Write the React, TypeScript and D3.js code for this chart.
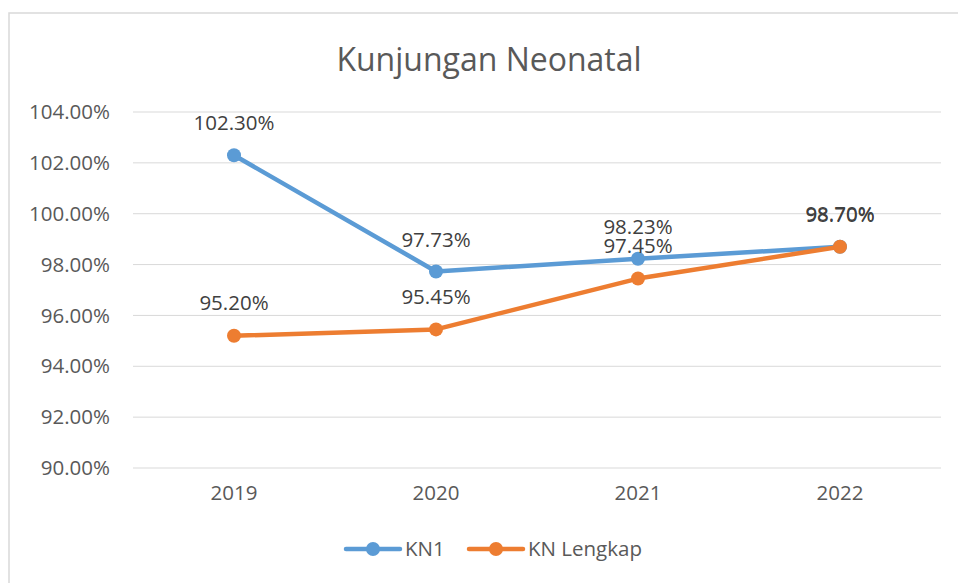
import * as d3 from "d3";

const years = ["2019", "2020", "2021", "2022"];
const kn1 = [102.3, 97.73, 98.23, 98.7];
const knLengkap = [95.2, 95.45, 97.45, 98.7];
const yTicks = [90, 92, 94, 96, 98, 100, 102, 104];

const series = [
  { name: "KN1", values: kn1, color: "#5B9BD5", labelGap: 32 },
  { name: "KN Lengkap", values: knLengkap, color: "#ED7D31", labelGap: 33 },
];

export default function App() {
  const width = 958;
  const height = 583;
  const font = "'Open Sans', sans-serif";

  // plot area
  const x = d3.scaleBand().domain(years).range([133, 941]);
  const y = d3.scaleLinear().domain([90, 104]).range([468, 112]);
  const cx = (d: string) => (x(d) ?? 0) + x.bandwidth() / 2;

  const line = d3
    .line<number>()
    .x((_, i) => cx(years[i]))
    .y((d) => y(d));

  const fmt = (v: number) => v.toFixed(2) + "%";

  return (
    <svg
      width={width}
      height={height}
      style={{ position: "absolute", left: 0, top: 0, background: "#fff" }}
    >
      <rect x={9} y={13} width={width + 10} height={height + 10} fill="#fff" stroke="#d9d9d9" strokeWidth={1.5} />
      <text x={489} y={71} textAnchor="middle" fontFamily={font} fontSize={32} fill="#595959">
        Kunjungan Neonatal
      </text>

      {yTicks.map((t) => (
        <g key={t}>
          <line x1={133} x2={941} y1={y(t)} y2={y(t)} stroke="#d9d9d9" strokeWidth={1} />
          <text x={110} y={y(t)} dy="0.35em" textAnchor="end" fontFamily={font} fontSize={20.5} fill="#595959">
            {t.toFixed(2)}%
          </text>
        </g>
      ))}

      {years.map((yr) => (
        <text key={yr} x={cx(yr)} y={500} textAnchor="middle" fontFamily={font} fontSize={20.5} fill="#595959">
          {yr}
        </text>
      ))}

      {series.map((s) => (
        <g key={s.name}>
          <path d={line(s.values) ?? ""} fill="none" stroke={s.color} strokeWidth={4.5} strokeLinecap="round" strokeLinejoin="round" />
          {s.values.map((v, i) => (
            <circle key={i} cx={cx(years[i])} cy={y(v)} r={7} fill={s.color} />
          ))}
        </g>
      ))}

      {series.map((s) => (
        <g key={s.name + "-labels"}>
          {s.values.map((v, i) => (
            <text key={i} x={cx(years[i])} y={y(v) - s.labelGap} dy="0.35em" textAnchor="middle" fontFamily={font} fontSize={20.5} fill="#404040">
              {fmt(v)}
            </text>
          ))}
        </g>
      ))}

      {series.map((s, i) => {
        const lx = i === 0 ? 346 : 469;
        return (
          <g key={s.name + "-legend"}>
            <line x1={lx} x2={lx + 54} y1={549} y2={549} stroke={s.color} strokeWidth={4.5} strokeLinecap="round" />
            <circle cx={lx + 27} cy={549} r={7} fill={s.color} />
            <text x={lx + 59} y={549} dy="0.35em" fontFamily={font} fontSize={20.5} fill="#595959">
              {s.name}
            </text>
          </g>
        );
      })}
    </svg>
  );
}
